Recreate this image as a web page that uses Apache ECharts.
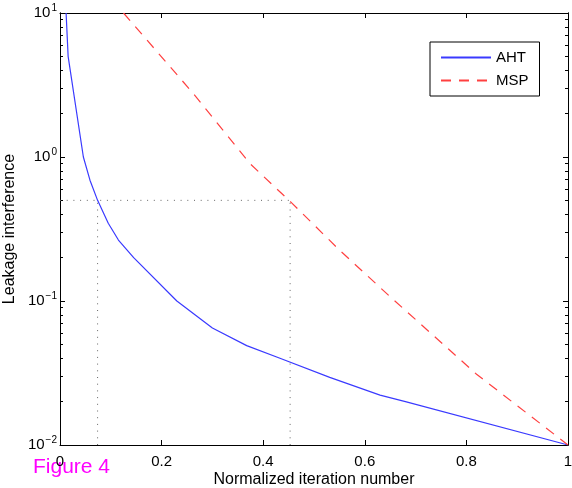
<!DOCTYPE html>
<html>
<head>
<meta charset="utf-8">
<script src="https://cdn.jsdelivr.net/npm/echarts@6/dist/echarts.min.js"></script>
<style>
html,body{margin:0;padding:0;background:#fff;}
#chart{width:572px;height:488px;}
</style>
</head>
<body>
<div id="chart"></div>
<script>
// ---- data ----
const ahtX = [0.012, 0.016, 0.046, 0.059, 0.074, 0.095, 0.115, 0.145, 0.23, 0.30, 0.3675, 0.433, 0.531, 0.63, 0.68, 1.0];
const ahtY = [10, 5.0, 1.0, 0.69, 0.5, 0.347, 0.265, 0.2, 0.1, 0.065, 0.049, 0.040, 0.0295, 0.0222, 0.02, 0.01];
const mspX = [0.125, 0.262, 0.374, 0.456, 0.55, 0.65, 0.82, 1.0];
const mspY = [10, 2.77, 0.90, 0.48, 0.226, 0.107, 0.031, 0.01];
const guideLevel = [0.5];
const guideXs = [0.074, 0.453];
const xTicks = [0, 0.2, 0.4, 0.6, 0.8, 1];
const yMajorTicks = [0.01, 0.1, 1, 10];
const yMinorTicks = [0.02,0.03,0.04,0.05,0.06,0.07,0.08,0.09,0.2,0.3,0.4,0.5,0.6,0.7,0.8,0.9,2,3,4,5,6,7,8,9];
const seriesNames = ['AHT', 'MSP'];
const xName = 'Normalized iteration number';
const yName = 'Leakage interference';
const figLabel = 'Figure 4';

const FONT = '"Liberation Sans", Arial, Helvetica, sans-serif';
const zip = (xs, ys) => xs.map((x, i) => [x, ys[i]]);

const chart = echarts.init(document.getElementById('chart'), null, {renderer: 'canvas'});

function yLabelFmt(v) {
  const e = Math.round(Math.log10(v));
  const s = e < 0 ? '\u2212' + Math.abs(e) : String(e);
  return '{b|10}{s|' + s + '}';
}

const baseY = {
  type: 'log', logBase: 10, min: 0.01, max: 10,
  splitLine: {show: false},
  axisLine: {show: true, onZero: false, lineStyle: {color: '#000', width: 1}}
};

const option = {
  animation: false,
  backgroundColor: '#fff',
  grid: {left: 60, right: 4, top: 13, bottom: 43, containLabel: false, outerBoundsMode: 'none'},
  legend: {
    data: seriesNames,
    orient: 'vertical',
    left: 430, top: 42,
    padding: [8, 11, 8, 10],
    itemGap: 8,
    itemWidth: 50, itemHeight: 14,
    borderColor: '#000', borderWidth: 1,
    backgroundColor: '#fff',
    itemStyle: {opacity: 0},
    textStyle: {fontFamily: FONT, fontSize: 15, color: '#000'},
    selectedMode: false
  },
  xAxis: [
    {
      type: 'value', min: 0, max: 1, position: 'bottom',
      name: xName, nameLocation: 'middle', nameGap: 27, nameMoveOverlap: false,
      nameTextStyle: {fontFamily: FONT, fontSize: 16, color: '#000'},
      splitLine: {show: false},
      axisLine: {show: true, onZero: false, lineStyle: {color: '#000', width: 1}},
      axisTick: {show: true, inside: true, length: 5, customValues: xTicks, lineStyle: {color: '#000'}},
      axisLabel: {show: true, customValues: xTicks, margin: 9, fontFamily: FONT, fontSize: 15, color: '#000',
        formatter: v => String(+v.toFixed(1))}
    },
    {
      type: 'value', min: 0, max: 1, position: 'top',
      splitLine: {show: false},
      axisLine: {show: true, onZero: false, lineStyle: {color: '#000', width: 1}},
      axisTick: {show: true, inside: true, length: 5, customValues: xTicks, lineStyle: {color: '#000'}},
      axisLabel: {show: false}
    }
  ],
  yAxis: [
    Object.assign({}, baseY, {
      position: 'left',
      name: yName, nameLocation: 'middle', nameGap: 42, nameRotate: 90, nameMoveOverlap: false,
      nameTextStyle: {fontFamily: FONT, fontSize: 16, color: '#000'},
      axisTick: {show: true, inside: true, length: 5, customValues: yMajorTicks, lineStyle: {color: '#000'}},
      axisLabel: {show: true, customValues: yMajorTicks, margin: 3, formatter: yLabelFmt,
        rich: {
          b: {fontFamily: FONT, fontSize: 15, color: '#000'},
          s: {fontFamily: FONT, fontSize: 10, color: '#000', padding: [0, 0, 9, 1]}
        }}
    }),
    Object.assign({}, baseY, {
      position: 'left',
      axisTick: {show: true, inside: true, length: 3, customValues: yMinorTicks, lineStyle: {color: '#000'}},
      axisLabel: {show: false}
    }),
    Object.assign({}, baseY, {
      position: 'right',
      axisTick: {show: true, inside: true, length: 5, customValues: yMajorTicks, lineStyle: {color: '#000'}},
      axisLabel: {show: false}
    }),
    Object.assign({}, baseY, {
      position: 'right',
      axisTick: {show: true, inside: true, length: 3, customValues: yMinorTicks, lineStyle: {color: '#000'}},
      axisLabel: {show: false}
    })
  ],
  graphic: [
    {type: 'text', left: 33, top: 457, style: {text: figLabel, fill: '#ff00ff', font: '21px ' + FONT}}
  ],
  series: [
    {
      name: 'guideH', type: 'line', xAxisIndex: 0, yAxisIndex: 0, symbol: 'none', silent: true,
      data: [[0, guideLevel[0]], [guideXs[1], guideLevel[0]]],
      lineStyle: {color: '#666', width: 1, type: [1, 5.7]}, z: 1
    },
    {
      name: 'guideV1', type: 'line', xAxisIndex: 0, yAxisIndex: 0, symbol: 'none', silent: true,
      data: [[guideXs[0], 0.01], [guideXs[0], guideLevel[0]]],
      lineStyle: {color: '#666', width: 1, type: [1, 5.7]}, z: 1
    },
    {
      name: 'guideV2', type: 'line', xAxisIndex: 0, yAxisIndex: 0, symbol: 'none', silent: true,
      data: [[guideXs[1], 0.01], [guideXs[1], guideLevel[0]]],
      lineStyle: {color: '#666', width: 1, type: [1, 5.7]}, z: 1
    },
    {
      name: seriesNames[0], type: 'line', xAxisIndex: 0, yAxisIndex: 0, symbol: 'none',
      data: zip(ahtX, ahtY), itemStyle: {color: '#3a3aff'},
      lineStyle: {color: '#3a3aff', width: 1.2}, z: 3
    },
    {
      name: seriesNames[1], type: 'line', xAxisIndex: 0, yAxisIndex: 0, symbol: 'none',
      data: zip(mspX, mspY), itemStyle: {color: '#ff4040'},
      lineStyle: {color: '#ff4040', width: 1.2, type: [10, 8]}, z: 3
    }
  ]
};
chart.setOption(option);
</script>
</body>
</html>
